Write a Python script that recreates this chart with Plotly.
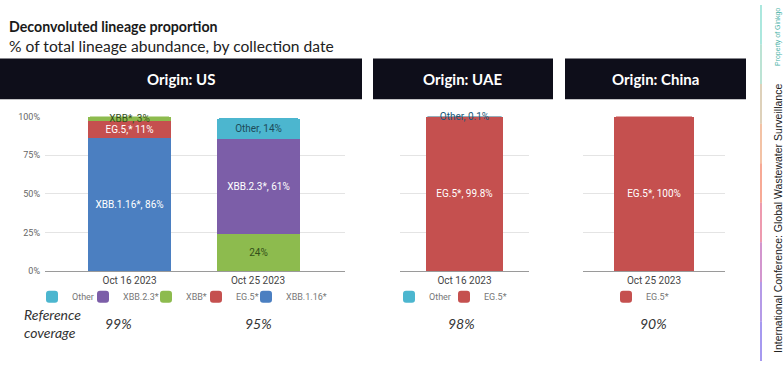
import plotly.graph_objects as go

# ---------------- data ----------------
us_dates = ["Oct 16 2023", "Oct 25 2023"]
us_xbb116 = [86, None]
us_eg5 = [11, None]
us_xbb = [3, 24]
us_xbb23 = [None, 61]
us_other = [None, 14]
us_lbl_xbb116 = ["XBB.1.16*, 86%", ""]
us_lbl_eg5 = ["EG.5,* 11%", ""]
us_lbl_xbb = ["XBB*, 3%", "24%"]
us_lbl_xbb23 = ["", "XBB.2.3*, 61%"]
us_lbl_other = ["", "Other, 14%"]

uae_dates = ["Oct 16 2023"]
uae_eg5 = [99.8]
uae_other = [0.1]
uae_lbl_eg5 = ["EG.5*, 99.8%"]
uae_lbl_other = ["Other, 0.1%"]

china_dates = ["Oct 25 2023"]
china_eg5 = [100]
china_lbl_eg5 = ["EG.5*, 100%"]

origins = ["Origin: US", "Origin: UAE", "Origin: China"]
coverage = ["99%", "95%", "98%", "90%"]
y_ticks = [0, 25, 50, 75, 100]
y_ticktext = ["0%", "25%", "50%", "75%", "100%"]

# ---------------- styling ----------------
W, H = 784, 368
def fx(p): return p / W
def fy(p): return 1 - p / H

C_OTHER = "#4cb6cf"
C_XBB23 = "#7c5ea8"
C_XBB = "#8dbb4e"
C_EG5 = "#c5504f"
C_XBB116 = "#4b7fc1"
FONT = "Roboto"

fig = go.Figure()

def add_bar(x, y, text, name, color, xa, ya, legend, width, tcolor="white"):
    fig.add_trace(go.Bar(
        x=x, y=y, text=text, name=name, marker=dict(color=color, line=dict(width=0)),
        xaxis=xa, yaxis=ya, legend=legend, width=width, showlegend=True,
        textposition="inside", insidetextanchor="middle", textangle=0,
        constraintext="none", cliponaxis=False,
        textfont=dict(family=FONT, size=10, color=tcolor),
        hoverinfo="skip"))

# US
wu = 0.646
add_bar(us_dates, us_xbb116, us_lbl_xbb116, "XBB.1.16*", C_XBB116, "x", "y", "legend5", wu)
add_bar(us_dates, us_eg5, us_lbl_eg5, "EG.5*", C_EG5, "x", "y", "legend4", wu)
add_bar(us_dates, us_xbb, us_lbl_xbb, "XBB*", C_XBB, "x", "y", "legend3", wu, tcolor="#34501a")
add_bar(us_dates, us_xbb23, us_lbl_xbb23, "XBB.2.3*", C_XBB23, "x", "y", "legend2", wu)
add_bar(us_dates, us_other, us_lbl_other, "Other", C_OTHER, "x", "y", "legend", wu, tcolor="#1d4b58")
# UAE
add_bar(uae_dates, uae_eg5, uae_lbl_eg5, "EG.5*", C_EG5, "x2", "y2", "legend7", 0.59)
add_bar(uae_dates, uae_other, uae_lbl_other, "Other", C_OTHER, "x2", "y2", "legend6", 0.59, tcolor="#1b5a7a")
# China
add_bar(china_dates, china_eg5, china_lbl_eg5, "EG.5*", C_EG5, "x3", "y3", "legend8", 0.563)

ydom = [fy(273.5), fy(114.5)]
xcommon = dict(showgrid=False, ticks="", showline=True, linecolor="#9a9a9a", linewidth=1,
               tickfont=dict(family=FONT, size=10, color="#444"), fixedrange=True, zeroline=False)
ycommon = dict(domain=ydom, range=[0, 100], tickvals=y_ticks, ticktext=y_ticktext,
               showgrid=True, gridcolor="#e4e4e4", gridwidth=1, zeroline=False, ticks="",
               tickfont=dict(family=FONT, size=9, color="#666"), fixedrange=True)

legcommon = dict(orientation="h", font=dict(family=FONT, size=9, color="#777"),
                 bgcolor="rgba(0,0,0,0)", yanchor="middle", xanchor="left",
                 itemwidth=30, itemclick=False, itemdoubleclick=False, y=fy(300))
# symbol centre positions (px) of each legend entry
leg_px = {"legend": 52, "legend2": 103, "legend3": 166, "legend4": 216, "legend5": 266,
          "legend6": 409, "legend7": 464, "legend8": 626}
legends = {k: dict(x=fx(v - 20), **legcommon) for k, v in leg_px.items()}

fig.update_layout(
    width=W, height=H, margin=dict(l=0, r=0, t=0, b=0),
    paper_bgcolor="white", plot_bgcolor="white",
    barmode="stack", bargap=0, barcornerradius=2,
    xaxis=dict(domain=[fx(45), fx(345)], range=[-0.658, 1.677], anchor="y", **xcommon),
    yaxis=dict(anchor="x", ticklabelstandoff=4, **ycommon),
    xaxis2=dict(domain=[fx(400), fx(529)], range=[-0.5, 0.5], anchor="y2", **xcommon),
    yaxis2=dict(anchor="x2", showticklabels=False, **ycommon),
    xaxis3=dict(domain=[fx(583), fx(725)], range=[-0.5, 0.5], anchor="y3", **xcommon),
    yaxis3=dict(anchor="x3", showticklabels=False, **ycommon),
    showlegend=True,
    **legends,
)

shapes = []
annotations = []
# title
annotations.append(dict(text="<b>Deconvoluted lineage proportion</b>", x=fx(7), y=fy(22),
                        xref="paper", yref="paper", xanchor="left", yanchor="middle", showarrow=False,
                        font=dict(family="Lato", size=14.2, color="#1a1a1a")))
annotations.append(dict(text="% of total lineage abundance, by collection date", x=fx(7), y=fy(42),
                        xref="paper", yref="paper", xanchor="left", yanchor="middle", showarrow=False,
                        font=dict(family="Lato", size=15.6, color="#222")))
# header boxes
boxes = [(0, 362), (373, 553), (565, 746)]
for (x0, x1), lab in zip(boxes, origins):
    shapes.append(dict(type="rect", xref="paper", yref="paper", x0=fx(x0), x1=fx(x1),
                       y0=fy(97), y1=fy(55), fillcolor="#0e0e1a", line=dict(width=0), layer="below"))
    annotations.append(dict(text="<b>" + lab + "</b>", x=fx((x0 + x1) / 2), y=fy(76.5), xref="paper",
                            yref="paper", xanchor="center", yanchor="middle", showarrow=False,
                            font=dict(family="Lato", size=15, color="white")))
# reference coverage
annotations.append(dict(text="Reference<br>coverage", x=fx(22), y=fy(327), xref="paper", yref="paper",
                        xanchor="left", yanchor="middle", showarrow=False, align="left",
                        font=dict(family="Lato", size=14, color="#333", style="italic")))
for xc, val in zip([118, 258.5, 461, 653], coverage):
    annotations.append(dict(text=val, x=fx(xc), y=fy(327), xref="paper", yref="paper",
                            xanchor="center", yanchor="middle", showarrow=False,
                            font=dict(family="Lato", size=14, color="#333", style="italic")))
# right side decoration
grad = ["#74d8c8", "#8fd0b8", "#c8b38c", "#eb9a6a", "#f2714f", "#e2587a", "#b54fae", "#8458d8", "#6b55e6"]
n = len(grad)
for i, c in enumerate(grad):
    shapes.append(dict(type="line", xref="paper", yref="paper", x0=fx(761), x1=fx(761),
                       y0=fy(i * 366 / n), y1=fy((i + 1) * 366 / n), line=dict(color=c, width=1.2)))
annotations.append(dict(text="International Conference: Global Wastewater Surveillance", x=fx(778),
                        y=fy(220), xref="paper", yref="paper", xanchor="center", yanchor="middle",
                        textangle=-90, showarrow=False,
                        font=dict(family="Liberation Sans", size=10.5, color="#222")))
annotations.append(dict(text="Property of Ginkgo", x=fx(778), y=fy(33), xref="paper",
                        yref="paper", xanchor="center", yanchor="middle", textangle=-90, showarrow=False,
                        font=dict(family="Liberation Sans", size=7, color="#4bb3a8")))

fig.update_layout(shapes=shapes, annotations=annotations)
fig.write_html("out.html", config={"displayModeBar": False},
               post_script="document.body.style.margin='0';document.body.style.overflow='hidden';")
